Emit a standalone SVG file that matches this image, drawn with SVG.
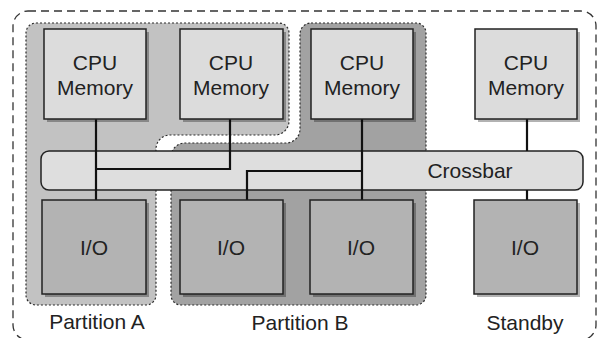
<svg xmlns="http://www.w3.org/2000/svg" width="598" height="338" viewBox="0 0 598 338">
<style>
.outer{fill:none;stroke:#333;stroke-width:1.3;stroke-dasharray:8 5}
.part{stroke:#2a2a2a;stroke-width:1.2;stroke-dasharray:2 2}
.pa{fill:#c2c2c2}
.pb{fill:#a2a2a2}
.sh{fill:#000;opacity:0.3}
.cpu{fill:#dcdcdc;stroke:#222;stroke-width:1.5}
.io{fill:#b3b3b3;stroke:#222;stroke-width:1.5}
.xbar{fill:#dedede;stroke:#222;stroke-width:1.5}
.t{font-family:"Liberation Sans",Arial,sans-serif;font-size:21px;fill:#222;text-anchor:middle}
.c{fill:none;stroke:#111;stroke-width:2.2}
</style>
<rect class="outer" x="13" y="11" width="583" height="329" rx="15"/>
<g id="partitionA">
<path class="part pa" d="M36 23H279A10 10 0 0 1 289 33V121A14 14 0 0 1 275 135H170A14 14 0 0 0 156 149V295A10 10 0 0 1 146 305H36A10 10 0 0 1 26 295V33A10 10 0 0 1 36 23Z"/>
<text class="t" x="97" y="329">Partition A</text>
</g>
<g id="partitionB">
<path class="part pb" d="M311 23H416A10 10 0 0 1 426 33V295A10 10 0 0 1 416 305H181A10 10 0 0 1 171 295V157A14 14 0 0 1 185 143H286A14 14 0 0 0 300 129V34A11 11 0 0 1 311 23Z"/>
<text class="t" x="300" y="330">Partition B</text>
</g>
<g id="standby">
<text class="t" x="525" y="330">Standby</text>
</g>
<g id="crossbar">
<rect class="xbar" x="41" y="151" width="542" height="39" rx="8"/>
<text class="t" x="470" y="178">Crossbar</text>
</g>
<g id="connectors">
<path class="c" d="M96 119V200"/>
<path class="c" d="M230 119V169H96"/>
<path class="c" d="M362 119V200"/>
<path class="c" d="M362 171H247V200"/>
<path class="c" d="M527 119V151"/>
<path class="c" d="M527 190V200"/>
</g>
<g id="cpu1"><rect class="sh" x="47" y="32" width="102" height="90"/><rect class="cpu" x="44" y="29" width="102" height="90"/><text class="t" x="95" y="70">CPU</text><text class="t" x="95" y="95">Memory</text></g>
<g id="cpu2"><rect class="sh" x="183" y="32" width="103" height="90"/><rect class="cpu" x="180" y="29" width="103" height="90"/><text class="t" x="231" y="70">CPU</text><text class="t" x="231" y="95">Memory</text></g>
<g id="cpu3"><rect class="sh" x="314" y="32" width="102" height="90"/><rect class="cpu" x="311" y="29" width="102" height="90"/><text class="t" x="362" y="70">CPU</text><text class="t" x="362" y="95">Memory</text></g>
<g id="cpu4"><rect class="sh" x="478" y="32" width="102" height="90"/><rect class="cpu" x="475" y="29" width="102" height="90"/><text class="t" x="526" y="70">CPU</text><text class="t" x="526" y="95">Memory</text></g>
<g id="io1"><rect class="sh" x="45" y="203" width="104" height="94"/><rect class="io" x="42" y="200" width="104" height="94"/><text class="t" x="94" y="255">I/O</text></g>
<g id="io2"><rect class="sh" x="183" y="203" width="103" height="94"/><rect class="io" x="180" y="200" width="103" height="94"/><text class="t" x="231" y="255">I/O</text></g>
<g id="io3"><rect class="sh" x="313" y="203" width="103" height="94"/><rect class="io" x="310" y="200" width="103" height="94"/><text class="t" x="361" y="255">I/O</text></g>
<g id="io4"><rect class="sh" x="477" y="203" width="103" height="94"/><rect class="io" x="474" y="200" width="103" height="94"/><text class="t" x="525" y="255">I/O</text></g>
</svg>
